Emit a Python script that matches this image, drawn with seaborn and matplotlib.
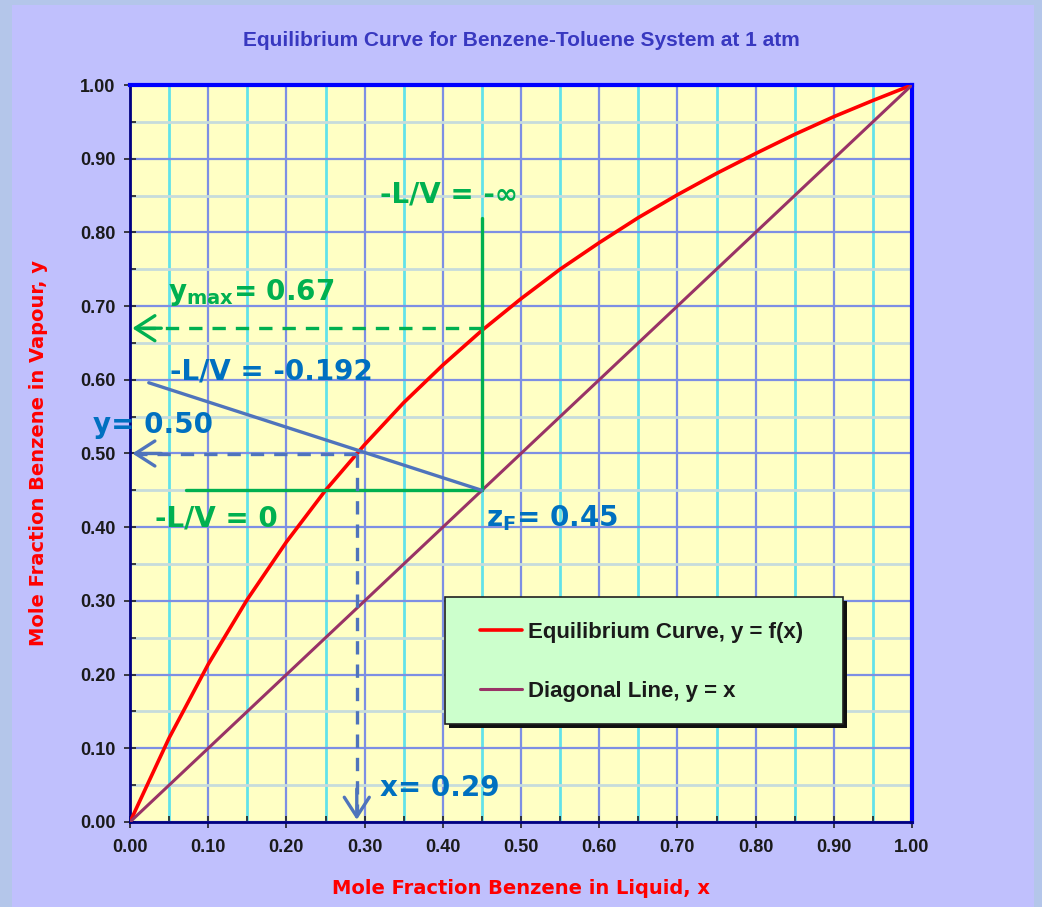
import numpy as np
import pandas as pd
import matplotlib
matplotlib.use("Agg")
import matplotlib.pyplot as plt
import seaborn as sns
from matplotlib.patches import Rectangle
from matplotlib.ticker import MultipleLocator, FormatStrFormatter

# ---------------- data ----------------
x_liquid = [0.00, 0.05, 0.10, 0.15, 0.20, 0.25, 0.30, 0.35, 0.40, 0.45, 0.50,
            0.55, 0.60, 0.65, 0.70, 0.75, 0.80, 0.85, 0.90, 0.95, 1.00]
y_vapour = [0.000, 0.114, 0.214, 0.302, 0.380, 0.450, 0.512, 0.569, 0.620, 0.667, 0.710,
            0.750, 0.786, 0.820, 0.851, 0.880, 0.907, 0.933, 0.957, 0.979, 1.000]
diag_x = [0.0, 1.0]
diag_y = [0.0, 1.0]

z_feed = 0.45
y_max = 0.67
y_op = 0.50
x_op = 0.29
infinite_top = 0.82
zero_left = 0.072
op_line_x = [0.45, 0.024]
op_line_y = [0.45, 0.596]

series_labels = ["Equilibrium Curve, y = f(x)", "Diagonal Line, y = x"]
title = "Equilibrium Curve for Benzene-Toluene System at 1 atm"
xlabel = "Mole Fraction Benzene in Liquid, x"
ylabel = "Mole Fraction Benzene in Vapour, y"

GREEN = "#00b050"
BLUE_T = "#0070c0"
BLUE_L = "#4f74bc"

sns.set_theme(style="ticks")
plt.rcParams["font.family"] = ["DejaVu Sans"]

fig = plt.figure(figsize=(10.42, 9.07), dpi=100)
fig.patch.set_facecolor("#b4c6ea")
fig.patches.append(Rectangle((12 / 1042, 0), 1 - 12 / 1042 - 8 / 1042, 1 - 5 / 907,
                             transform=fig.transFigure, facecolor="#c0c0fd",
                             edgecolor="none", zorder=-10))
ax = fig.add_axes([130 / 1042, 1 - 822 / 907, 782 / 1042, 737 / 907])
ax.set_facecolor("#ffffc4")

eq_df = pd.DataFrame({"x": x_liquid, "y": y_vapour})
dg_df = pd.DataFrame({"x": diag_x, "y": diag_y})
sns.lineplot(data=eq_df, x="x", y="y", ax=ax, color="#ff0000", linewidth=2.6,
             label=series_labels[0], zorder=5)
sns.lineplot(data=dg_df, x="x", y="y", ax=ax, color="#993366", linewidth=2.2,
             label=series_labels[1], zorder=5)

ax.set_xlim(0, 1)
ax.set_ylim(0, 1)
ax.xaxis.set_major_locator(MultipleLocator(0.1))
ax.xaxis.set_minor_locator(MultipleLocator(0.05))
ax.yaxis.set_major_locator(MultipleLocator(0.1))
ax.yaxis.set_minor_locator(MultipleLocator(0.05))
ax.xaxis.set_major_formatter(FormatStrFormatter("%.2f"))
ax.yaxis.set_major_formatter(FormatStrFormatter("%.2f"))

ax.xaxis.grid(True, which="major", color="#7d8fe4", linewidth=1.6, zorder=0)
ax.xaxis.grid(True, which="minor", color="#62e2ea", linewidth=2.0, zorder=0)
ax.yaxis.grid(True, which="major", color="#7d8fe4", linewidth=1.6, zorder=0)
ax.yaxis.grid(True, which="minor", color="#c6dcdc", linewidth=2.0, zorder=0)
ax.set_axisbelow(True)

for s in ["left", "bottom"]:
    ax.spines[s].set_color("#000080")
    ax.spines[s].set_linewidth(2)
for s in ["top", "right"]:
    ax.spines[s].set_color("#0000ff")
    ax.spines[s].set_linewidth(3)

ax.tick_params(axis="both", which="major", direction="inout", length=9, width=1.2,
               color="#202020", labelsize=13, labelcolor="#1a1a1a")
ax.tick_params(axis="x", which="major", pad=8)
ax.tick_params(axis="y", which="major", pad=6)
ax.tick_params(axis="both", which="minor", direction="in", length=4, width=1.2, color="#202020")
for lab in ax.get_xticklabels() + ax.get_yticklabels():
    lab.set_fontweight("bold")
    lab.set_family("Liberation Sans")

ax.set_xlabel(xlabel, color="#ff0000", fontsize=14, fontweight="bold",
              family="DejaVu Sans")
ax.set_ylabel(ylabel, color="#ff0000", fontsize=14, fontweight="bold",
              family="DejaVu Sans")
ax.xaxis.set_label_coords(0.5, -0.077)
ax.yaxis.set_label_coords(-0.105, 0.5)
fig.text(0.5, 1 - 40 / 907, title, ha="center", va="center", color="#3838c0",
         fontsize=15, fontweight="bold", family="Liberation Sans")

# ---------------- annotations ----------------
lw = 2.4
ax.plot([z_feed, z_feed], [z_feed, infinite_top], color=GREEN, lw=lw, zorder=6)
ax.plot([zero_left, z_feed], [z_feed, z_feed], color=GREEN, lw=lw, zorder=6)
ax.plot([z_feed, 0.01], [y_max, y_max], color=GREEN, lw=lw, ls=(0, (4, 3)), zorder=6)
ax.annotate("", xy=(0.003, y_max), xytext=(0.04, y_max),
            arrowprops=dict(arrowstyle="->,head_length=0.7,head_width=0.45", color=GREEN,
                            lw=lw, mutation_scale=20, shrinkA=0, shrinkB=0), zorder=7)
ax.plot(op_line_x, op_line_y, color=BLUE_L, lw=lw, zorder=6)
ax.plot([x_op, 0.01], [y_op, y_op], color=BLUE_L, lw=lw, ls=(0, (4, 3)), zorder=6)
ax.annotate("", xy=(0.003, y_op), xytext=(0.04, y_op),
            arrowprops=dict(arrowstyle="->,head_length=0.7,head_width=0.45", color=BLUE_L,
                            lw=lw, mutation_scale=20, shrinkA=0, shrinkB=0), zorder=7)
ax.plot([x_op, x_op], [y_op, 0.01], color=BLUE_L, lw=lw, ls=(0, (4, 3)), zorder=6)
ax.annotate("", xy=(x_op, 0.003), xytext=(x_op, 0.045),
            arrowprops=dict(arrowstyle="->,head_length=0.7,head_width=0.45", color=BLUE_L,
                            lw=lw, mutation_scale=20, shrinkA=0, shrinkB=0), zorder=7)

tk = dict(fontsize=20, fontweight="bold", va="center", ha="left", zorder=8, clip_on=False)
ax.text(0.32, 0.851, "-L/V = -∞", color=GREEN, **tk)
ax.text(0.049, 0.719, r"y$_{\mathregular{max}}$= 0.67", color=GREEN, **tk)
ax.text(0.051, 0.611, "-L/V = -0.192", color=BLUE_T, **tk)
ax.text(-0.047, 0.539, "y= 0.50", color=BLUE_T, **tk)
ax.text(0.032, 0.412, "-L/V = 0", color=GREEN, **tk)
ax.text(0.455, 0.412, r"z$_{\mathregular{F}}$= 0.45", color=BLUE_T, **tk)
ax.text(0.32, 0.046, "x= 0.29", color=BLUE_T, **tk)

# ---------------- legend (box drawn as patches, entries from seaborn lines) ----------------
box = (0.403, 0.133, 0.509, 0.172)
sh = Rectangle((box[0] + 4 / 782, box[1] - 4 / 737), box[2], box[3], transform=ax.transAxes,
               facecolor="#101010", edgecolor="none", zorder=8.5, clip_on=False)
fr = Rectangle((box[0], box[1]), box[2], box[3], transform=ax.transAxes,
               facecolor="#ccffcc", edgecolor="#202020", linewidth=1.2, zorder=8.6,
               clip_on=False)
ax.add_patch(sh)
ax.add_patch(fr)
leg = ax.legend(loc="upper left", bbox_to_anchor=(0.4476, 0.2717), borderaxespad=0,
                frameon=False, borderpad=0,
                prop={"family": "Liberation Sans", "weight": "bold", "size": 16},
                handlelength=1.9, handletextpad=0.25, labelspacing=1.7)
for t in leg.get_texts():
    t.set_color("#1a1a1a")
leg.set_zorder(9)

fig.savefig("out.png", dpi=100, facecolor=fig.get_facecolor())
